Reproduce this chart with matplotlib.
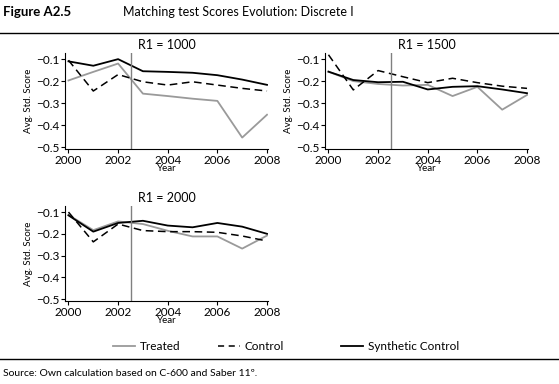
import matplotlib
matplotlib.use("Agg")
import matplotlib.pyplot as plt
from matplotlib.lines import Line2D

plt.rcParams['font.family'] = ['Lato', 'DejaVu Sans']

years = [2000, 2001, 2002, 2003, 2004, 2005, 2006, 2007, 2008]
panel_titles = ["R1 = 1000", "R1 = 1500", "R1 = 2000"]

treated_1000 = [-0.197, -0.158, -0.120, -0.257, -0.268, -0.280, -0.290, -0.457, -0.353]
control_1000 = [-0.105, -0.245, -0.170, -0.203, -0.218, -0.203, -0.218, -0.233, -0.245]
synth_1000 = [-0.110, -0.130, -0.100, -0.155, -0.158, -0.162, -0.173, -0.193, -0.217]

treated_1500 = [-0.157, -0.200, -0.213, -0.220, -0.217, -0.268, -0.226, -0.330, -0.263]
control_1500 = [-0.080, -0.240, -0.152, -0.180, -0.207, -0.187, -0.207, -0.223, -0.233]
synth_1500 = [-0.157, -0.195, -0.205, -0.203, -0.238, -0.226, -0.223, -0.238, -0.255]

treated_2000 = [-0.113, -0.183, -0.143, -0.155, -0.186, -0.212, -0.212, -0.268, -0.208]
control_2000 = [-0.100, -0.237, -0.155, -0.185, -0.190, -0.190, -0.193, -0.210, -0.233]
synth_2000 = [-0.115, -0.190, -0.150, -0.140, -0.162, -0.170, -0.150, -0.167, -0.200]

treatment_year = 2002.5
yticks = [-0.1, -0.2, -0.3, -0.4, -0.5]
xticks = [2000, 2002, 2004, 2006, 2008]

W, H = 559, 384
fig = plt.figure(figsize=(W / 100, H / 100), dpi=100)

def rect(l, t, r, b):
    return [l / W, 1 - b / H, (r - l) / W, (b - t) / H]

panels = [
    (rect(65, 53, 268, 149), panel_titles[0], treated_1000, control_1000, synth_1000),
    (rect(325, 53, 528, 149), panel_titles[1], treated_1500, control_1500, synth_1500),
    (rect(65, 206, 268, 301), panel_titles[2], treated_2000, control_2000, synth_2000),
]

gray = "#9a9a9a"
for pos, title, tr, co, sy in panels:
    ax = fig.add_axes(pos)
    ax.plot(years, tr, color=gray, lw=1.3)
    ax.plot(years, co, color="black", lw=1.1, ls=(0, (5, 3)))
    ax.plot(years, sy, color="black", lw=1.3)
    ax.axvline(treatment_year, color="#808080", lw=1.0)
    ax.set_xlim(1999.86, 2008.04)
    ax.set_ylim(-0.509, -0.072)
    ax.set_xticks(xticks)
    ax.set_yticks(yticks)
    ax.set_yticklabels([f"{v:.1f}".replace("-", "\u2212") for v in yticks])
    ax.tick_params(labelsize=8.5, length=3, width=0.8, pad=1)
    for s in ["top", "right"]:
        ax.spines[s].set_visible(False)
    for s in ["left", "bottom"]:
        ax.spines[s].set_linewidth(0.8)
    ax.set_title(title, fontsize=9, pad=3)
    ax.set_xlabel("Year", fontsize=7, labelpad=-1)
    ax.set_ylabel("Avg. Std. Score", fontsize=7, labelpad=2)

# Header
fig.text(3 / W, 1 - 12 / H, "Figure A2.5", fontsize=9.5, fontweight="bold", va="center", ha="left")
fig.text(123 / W, 1 - 12 / H, "Matching test Scores Evolution: Discrete I", fontsize=9, va="center", ha="left")
fig.add_artist(Line2D([0, 1], [1 - 33 / H, 1 - 33 / H], color="black", lw=1.0, transform=fig.transFigure))
fig.add_artist(Line2D([0, 1], [1 - 359 / H, 1 - 359 / H], color="black", lw=1.0, transform=fig.transFigure))

# Legend
entries = [
    (Line2D([], [], color=gray, lw=1.3), "Treated", 113),
    (Line2D([], [], color="black", lw=1.1, ls=(0, (4, 3))), "Control", 218),
    (Line2D([], [], color="black", lw=1.3), "Synthetic Control", 341),
]
for h, lab, x in entries:
    fig.legend([h], [lab], loc="center left", bbox_to_anchor=(x / W, 1 - 347 / H),
               frameon=False, fontsize=8.5, handlelength=1.85, handletextpad=0.4,
               borderpad=0, borderaxespad=0)

fig.text(3 / W, 1 - 374 / H, "Source: Own calculation based on C-600 and Saber 11\u00ba.",
         fontsize=7.5, va="center", ha="left")

fig.savefig("out.png", dpi=100)
